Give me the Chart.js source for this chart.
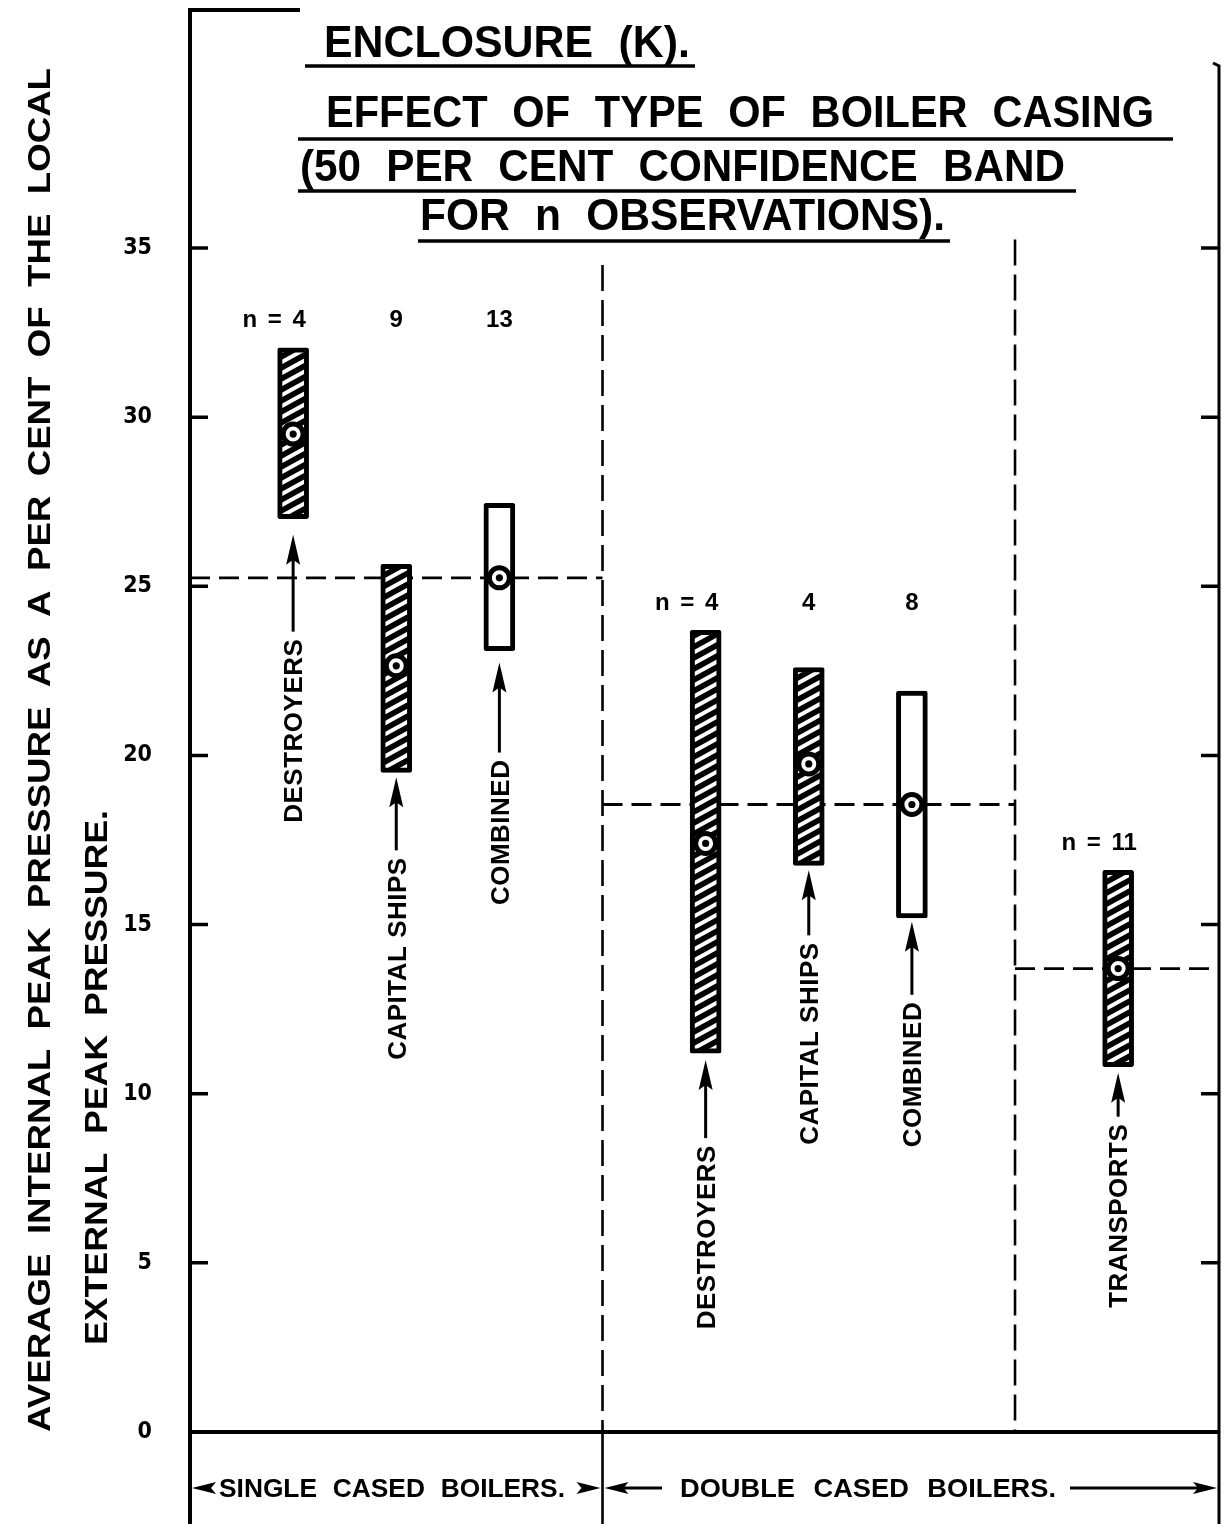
<!DOCTYPE html>
<html>
<head>
<meta charset="utf-8">
<title>Enclosure (K) - Effect of type of boiler casing</title>
<script src="https://cdn.jsdelivr.net/npm/chart.js"></script>
<style>
  html, body { margin: 0; padding: 0; background: #ffffff; overflow: hidden; }
  #wrap { position: relative; width: 1225px; height: 1524px; }
  #chart { display: block; }
</style>
</head>
<body>
<div id="wrap"><canvas id="chart" width="1225" height="1524"></canvas></div>
<script>
// ---------------- DATA ----------------
const categories   = ['DESTROYERS', 'CAPITAL SHIPS', 'COMBINED', 'DESTROYERS', 'CAPITAL SHIPS', 'COMBINED', 'TRANSPORTS'];
const casingGroup  = ['single', 'single', 'single', 'double', 'double', 'double', 'double'];
const labelGroup   = [0, 0, 0, 1, 1, 1, 2];
const xSlots       = [0, 1, 2, 4, 5, 6, 8];
const bandLow      = [27.0, 19.5, 23.1, 11.2, 16.75, 15.2, 10.8];
const bandHigh     = [32.05, 25.65, 27.45, 23.7, 22.6, 21.9, 16.6];
const meanValue    = [29.5, 22.65, 25.25, 17.4, 19.75, 18.55, 13.7];
const nObs         = [4, 9, 13, 4, 4, 8, 11];
const isCombined   = [false, false, true, false, false, true, false];
const groupMean    = [25.25, 18.55, 13.7];
const groupFrom    = [-1, 3, 7];
const groupTo      = [3, 7, 9];
const dividerAt    = [3, 7];
const yTickValues  = [0, 5, 10, 15, 20, 25, 30, 35];
const titleLines   = ['ENCLOSURE (K).', 'EFFECT OF TYPE OF BOILER CASING', '(50 PER CENT CONFIDENCE BAND', 'FOR n OBSERVATIONS).'];
const yTitleLines  = ['AVERAGE INTERNAL PEAK PRESSURE AS A PER CENT OF THE LOCAL', 'EXTERNAL PEAK PRESSURE.'];
const casingNames  = ['SINGLE CASED BOILERS.', 'DOUBLE CASED BOILERS.'];

// ---------------- STYLE / LAYOUT ----------------
const FONT = '"Liberation Sans", Arial, "DejaVu Sans", sans-serif';
const NARROW = '"Liberation Sans Narrow", "DejaVu Sans Condensed", "Liberation Sans", sans-serif';
const arrowTipGap = [16, 5, 12, 7, 5, 4, 6];
const arrowLen    = [97, 73, 90, 78, 65, 73, 44];
// title: [x, baseline, width]; underline: [x1, x2, y]
const titleBox  = [[324, 57, 366], [326, 127, 828], [300, 181, 765], [420, 230, 525]];
const underline = [[305, 695, 66], [298, 1173, 139], [298, 1076, 191], [418, 950, 241]];

function makeHatch() {
  const w = 20, h = 11;
  const c = document.createElement('canvas');
  c.width = w; c.height = h;
  const g = c.getContext('2d');
  g.fillStyle = '#000'; g.fillRect(0, 0, w, h);
  g.strokeStyle = '#fff'; g.lineWidth = 4;
  for (const k of [-2, -1, 0, 1, 2]) {
    g.beginPath();
    g.moveTo(-w, 2 * h + k * h);
    g.lineTo(2 * w, -h + k * h);
    g.stroke();
  }
  return g.createPattern(c, 'repeat');
}
const hatch = makeHatch();

function drawFit(ctx, s, x, y, w, font, rotate, wordGap) {
  ctx.save();
  ctx.font = font;
  ctx.textAlign = 'left';
  ctx.textBaseline = 'alphabetic';
  if (wordGap && 'wordSpacing' in ctx) ctx.wordSpacing = wordGap + 'px';
  const m = ctx.measureText(s).width;
  ctx.translate(x, y);
  if (rotate) ctx.rotate(-Math.PI / 2);
  ctx.scale(w / m, 1);
  ctx.fillText(s, 0, 0);
  ctx.restore();
}

function arrowHeadUp(ctx, x, tipY, len, half) {
  ctx.beginPath();
  ctx.moveTo(x, tipY);
  ctx.lineTo(x + half, tipY + len);
  ctx.lineTo(x, tipY + len - 5);
  ctx.lineTo(x - half, tipY + len);
  ctx.closePath();
  ctx.fill();
}
function arrowHeadH(ctx, tipX, y, dir, len, half) {
  ctx.beginPath();
  ctx.moveTo(tipX, y);
  ctx.lineTo(tipX - dir * len, y - half);
  ctx.lineTo(tipX - dir * (len - 5), y);
  ctx.lineTo(tipX - dir * len, y + half);
  ctx.closePath();
  ctx.fill();
}

const decor = {
  id: 'decor',
  beforeDraw(chart) {
    const ctx = chart.ctx;
    ctx.save();
    ctx.fillStyle = '#fff';
    ctx.fillRect(0, 0, chart.width, chart.height);
    ctx.restore();
  },
  afterDraw(chart) {
    const ctx = chart.ctx;
    const xs = chart.scales.x, ys = chart.scales.y;
    const X = v => xs.getPixelForValue(v);
    const Y = v => ys.getPixelForValue(v);
    const area = chart.chartArea;
    const H = chart.height;
    ctx.save();
    ctx.fillStyle = '#000';
    ctx.strokeStyle = '#000';
    ctx.lineCap = 'butt';

    // vertical dividers (dashed inside plot)
    ctx.lineWidth = 2.6;
    ctx.setLineDash([26, 9]);
    const divTop = [34.5, 35.25];
    dividerAt.forEach((d, i) => {
      ctx.beginPath();
      ctx.moveTo(X(d), Y(divTop[i]));
      ctx.lineTo(X(d), Y(0));
      ctx.stroke();
    });
    ctx.setLineDash([]);
    ctx.beginPath();
    ctx.moveTo(X(dividerAt[0]), Y(0));
    ctx.lineTo(X(dividerAt[0]), H);
    ctx.stroke();

    // frame: left axis with top bracket
    ctx.lineWidth = 4;
    ctx.beginPath();
    ctx.moveTo(300, 10);
    ctx.lineTo(area.left, 10);
    ctx.lineTo(area.left, H);
    ctx.stroke();
    // right axis
    ctx.lineWidth = 3;
    ctx.beginPath();
    ctx.moveTo(area.right - 6, 63);
    ctx.lineTo(area.right, 66);
    ctx.lineTo(area.right, H);
    ctx.stroke();
    // zero line
    ctx.lineWidth = 4;
    ctx.beginPath();
    ctx.moveTo(area.left, Y(0));
    ctx.lineTo(area.right, Y(0));
    ctx.stroke();

    // inward tick marks, both sides
    ctx.lineWidth = 3.5;
    yTickValues.forEach(v => {
      if (v === 0) return;
      ctx.beginPath();
      ctx.moveTo(area.left, Y(v)); ctx.lineTo(area.left + 18, Y(v));
      ctx.moveTo(area.right, Y(v)); ctx.lineTo(area.right - 18, Y(v));
      ctx.stroke();
    });

    // title
    const tFont = 'bold 44px ' + FONT;
    titleLines.forEach((s, i) => {
      const b = titleBox[i];
      drawFit(ctx, s, b[0], b[1], b[2], tFont, false, 14);
    });
    ctx.lineWidth = 3.5;
    underline.forEach(u => {
      ctx.beginPath(); ctx.moveTo(u[0], u[2]); ctx.lineTo(u[1], u[2]); ctx.stroke();
    });

    // y axis title (two rotated lines)
    const yFont = 'bold 32px ' + FONT;
    drawFit(ctx, yTitleLines[0], 50, 1432, 1364, yFont, true, 8);
    drawFit(ctx, yTitleLines[1], 107, 1345, 535, yFont, true, 8);

    // n labels above each group
    const nFont = 'bold 24px ' + FONT;
    ctx.font = nFont;
    ctx.textAlign = 'right';
    ctx.textBaseline = 'alphabetic';
    if ('wordSpacing' in ctx) ctx.wordSpacing = '4px';
    const capN = 24 * 0.716;
    categories.forEach((c, i) => {
      const g = labelGroup[i];
      let gmax = -Infinity;
      labelGroup.forEach((gg, j) => { if (gg === g) gmax = Math.max(gmax, bandHigh[j]); });
      const yPix = Y(gmax) - 29;
      const num = String(nObs[i]);
      const nw = ctx.measureText(num).width;
      const first = i === 0 || labelGroup[i - 1] !== g;
      const s = first ? 'n = ' + num : num;
      const shift = first ? 6 : 0;
      ctx.fillText(s, X(xSlots[i]) + nw / 2 + shift, yPix + capN / 2);
    });
    if ('wordSpacing' in ctx) ctx.wordSpacing = '0px';

    // category labels with arrows pointing up to the bands
    const cFont = 'bold 26px ' + FONT;
    const capC = 26 * 0.716;
    categories.forEach((c, i) => {
      const x = X(xSlots[i]);
      const tip = Y(bandLow[i]) + arrowTipGap[i];
      const shaftEnd = tip + arrowLen[i];
      arrowHeadUp(ctx, x, tip, 30, 7);
      ctx.lineWidth = 3;
      ctx.beginPath(); ctx.moveTo(x, tip + 20); ctx.lineTo(x, shaftEnd); ctx.stroke();
      ctx.save();
      ctx.font = cFont;
      if ('letterSpacing' in ctx) ctx.letterSpacing = '0.5px';
      ctx.textAlign = 'right';
      ctx.textBaseline = 'alphabetic';
      ctx.translate(x, shaftEnd + 7);
      ctx.rotate(-Math.PI / 2);
      ctx.fillText(c, 0, capC / 2);
      ctx.restore();
    });

    // casing group labels under the axis
    const gFont = 'bold 25px ' + FONT;
    const yB = 1488;
    const capG = 25 * 0.716;
    drawFit(ctx, casingNames[0], 219, yB + capG / 2, 346, gFont, false, 8);
    drawFit(ctx, casingNames[1], 680, yB + capG / 2, 376, gFont, false, 10);
    arrowHeadH(ctx, area.left + 2, yB, -1, 24, 6);
    arrowHeadH(ctx, X(dividerAt[0]) - 2, yB, 1, 24, 6);
    arrowHeadH(ctx, X(dividerAt[0]) + 2, yB, -1, 24, 6);
    arrowHeadH(ctx, area.right - 2, yB, 1, 24, 6);
    ctx.lineWidth = 3;
    ctx.beginPath();
    ctx.moveTo(X(dividerAt[0]) + 20, yB); ctx.lineTo(662, yB);
    ctx.moveTo(1070, yB); ctx.lineTo(area.right - 20, yB);
    ctx.stroke();

    ctx.restore();
  }
};

// ---------------- CHART ----------------
const barData  = xSlots.map((x, i) => ({ x: x, y: [bandLow[i], bandHigh[i]] }));
const meanData = xSlots.map((x, i) => ({ x: x, y: meanValue[i] }));
const lineSets = groupMean.map((m, i) => ({
  type: 'line',
  label: 'group mean ' + (i + 1),
  data: [{ x: groupFrom[i], y: m }, { x: groupTo[i], y: m }],
  borderColor: '#000',
  borderWidth: 2.8,
  borderDash: [20, 9],
  pointRadius: 0,
  fill: false,
  tension: 0,
  order: 3
}));

new Chart(document.getElementById('chart'), {
  type: 'bar',
  data: {
    datasets: [
      {
        type: 'bar',
        label: '50 per cent confidence band',
        data: barData,
        backgroundColor: xSlots.map((x, i) => isCombined[i] ? '#ffffff' : hatch),
        borderColor: '#000',
        borderWidth: 5,
        borderSkipped: false,
        borderRadius: 2,
        barThickness: 31,
        order: 2
      },
      ...lineSets,
      {
        type: 'scatter',
        label: 'mean',
        data: meanData,
        pointRadius: 10,
        pointHoverRadius: 10,
        pointBorderWidth: 5,
        pointBackgroundColor: '#fff',
        pointBorderColor: '#000',
        order: 1
      },
      {
        type: 'scatter',
        label: 'mean centre',
        data: meanData,
        pointRadius: 3.6,
        pointHoverRadius: 3.6,
        pointBorderWidth: 0,
        pointBackgroundColor: '#000',
        pointBorderColor: '#000',
        order: 0
      }
    ]
  },
  options: {
    responsive: false,
    maintainAspectRatio: false,
    devicePixelRatio: 1,
    animation: false,
    events: [],
    layout: { autoPadding: false, padding: { left: 0, right: 6, top: 248, bottom: 92 } },
    plugins: { legend: { display: false }, tooltip: { enabled: false }, title: { display: false } },
    scales: {
      x: {
        type: 'linear',
        min: -1,
        max: 8.978,
        offset: false,
        display: false
      },
      y: {
        type: 'linear',
        min: 0,
        max: 35,
        afterFit: s => { s.width = 190; },
        afterBuildTicks: s => { s.ticks = yTickValues.map(v => ({ value: v })); },
        grid: { display: false, drawTicks: false },
        border: { display: false },
        ticks: {
          padding: 38,
          color: '#000',
          font: { family: NARROW, size: 23, weight: 'bold' }
        }
      }
    }
  },
  plugins: [decor]
});
</script>
</body>
</html>
